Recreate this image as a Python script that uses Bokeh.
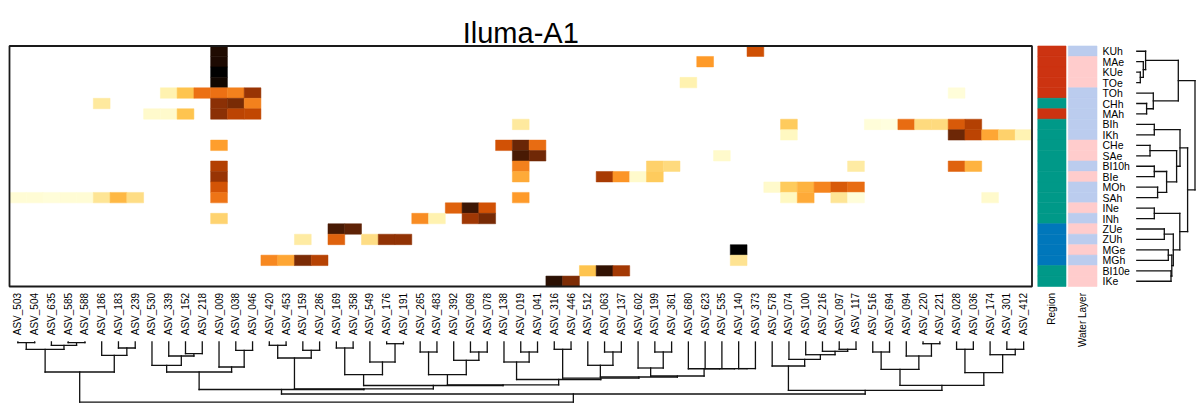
import math
from bokeh.plotting import figure
from bokeh.models import Range1d, LinearColorMapper, ColumnDataSource
from bokeh.core.properties import value
from bokeh.embed import file_html
from bokeh.resources import INLINE

# ---------------- data ----------------
title_text = "Iluma-A1"

asv_labels = [
    "ASV_503", "ASV_504", "ASV_635", "ASV_585", "ASV_588", "ASV_186", "ASV_183", "ASV_239",
    "ASV_530", "ASV_339", "ASV_152", "ASV_218", "ASV_009", "ASV_038", "ASV_046", "ASV_420",
    "ASV_453", "ASV_159", "ASV_286", "ASV_169", "ASV_358", "ASV_549", "ASV_176", "ASV_191",
    "ASV_265", "ASV_483", "ASV_392", "ASV_069", "ASV_078", "ASV_138", "ASV_019", "ASV_041",
    "ASV_316", "ASV_446", "ASV_512", "ASV_063", "ASV_137", "ASV_602", "ASV_199", "ASV_361",
    "ASV_680", "ASV_623", "ASV_535", "ASV_140", "ASV_373", "ASV_578", "ASV_074", "ASV_100",
    "ASV_216", "ASV_097", "ASV_117", "ASV_516", "ASV_694", "ASV_094", "ASV_220", "ASV_221",
    "ASV_028", "ASV_036", "ASV_174", "ASV_301", "ASV_412",
]

sample_labels = [
    "KUh", "MAe", "KUe", "TOe", "TOh", "CHh", "MAh", "BIh", "IKh", "CHe", "SAe", "BI10h",
    "BIe", "MOh", "SAh", "INe", "INh", "ZUe", "ZUh", "MGe", "MGh", "BI10e", "IKe",
]

region = [
    "R1", "R1", "R1", "R1", "R1", "R2", "R1", "R2", "R2", "R2", "R2", "R2",
    "R2", "R2", "R2", "R2", "R2", "R3", "R3", "R3", "R3", "R2", "R2",
]
region_colors = {"R1": "#CC3311", "R2": "#009988", "R3": "#0077BB"}

water_layer = [
    "h", "e", "e", "e", "h", "h", "h", "h", "h", "e", "e", "h",
    "e", "h", "h", "e", "h", "e", "h", "e", "h", "e", "e",
]
water_colors = {"h": "#BBCCEE", "e": "#FFCCCC"}

# non-zero heatmap cells (abundance level on a 0-9 colour scale)
cell_sample = [
    "KUh", "KUh",
    "MAe", "MAe",
    "KUe",
    "TOe", "TOe",
    "TOh", "TOh", "TOh", "TOh", "TOh", "TOh", "TOh",
    "CHh", "CHh", "CHh", "CHh",
    "MAh", "MAh", "MAh", "MAh", "MAh", "MAh",
    "BIh", "BIh", "BIh", "BIh", "BIh", "BIh", "BIh", "BIh", "BIh",
    "IKh", "IKh", "IKh", "IKh", "IKh", "IKh",
    "CHe", "CHe", "CHe", "CHe",
    "SAe", "SAe", "SAe",
    "BI10h", "BI10h", "BI10h", "BI10h", "BI10h", "BI10h", "BI10h",
    "BIe", "BIe", "BIe", "BIe", "BIe", "BIe",
    "MOh", "MOh", "MOh", "MOh", "MOh", "MOh", "MOh",
    "SAh", "SAh", "SAh", "SAh", "SAh", "SAh", "SAh", "SAh", "SAh", "SAh", "SAh", "SAh", "SAh", "SAh", "SAh",
    "INe", "INe", "INe",
    "INh", "INh", "INh", "INh", "INh",
    "ZUe", "ZUe",
    "ZUh", "ZUh", "ZUh", "ZUh", "ZUh",
    "MGe",
    "MGh", "MGh", "MGh", "MGh", "MGh",
    "BI10e", "BI10e", "BI10e",
    "IKe", "IKe",
]
cell_asv = [
    "ASV_009", "ASV_373",
    "ASV_009", "ASV_623",
    "ASV_009",
    "ASV_009", "ASV_680",
    "ASV_339", "ASV_152", "ASV_218", "ASV_009", "ASV_038", "ASV_046", "ASV_028",
    "ASV_186", "ASV_009", "ASV_038", "ASV_046",
    "ASV_530", "ASV_339", "ASV_152", "ASV_009", "ASV_038", "ASV_046",
    "ASV_019", "ASV_074", "ASV_516", "ASV_694", "ASV_094", "ASV_220", "ASV_221", "ASV_028", "ASV_036",
    "ASV_074", "ASV_028", "ASV_036", "ASV_174", "ASV_301", "ASV_412",
    "ASV_009", "ASV_138", "ASV_019", "ASV_041",
    "ASV_019", "ASV_041", "ASV_535",
    "ASV_009", "ASV_019", "ASV_199", "ASV_361", "ASV_117", "ASV_028", "ASV_036",
    "ASV_009", "ASV_019", "ASV_063", "ASV_137", "ASV_602", "ASV_199",
    "ASV_009", "ASV_578", "ASV_074", "ASV_100", "ASV_216", "ASV_097", "ASV_117",
    "ASV_503", "ASV_504", "ASV_635", "ASV_585", "ASV_588", "ASV_186", "ASV_183", "ASV_239", "ASV_009", "ASV_019", "ASV_074", "ASV_100", "ASV_097", "ASV_117", "ASV_174",
    "ASV_392", "ASV_069", "ASV_078",
    "ASV_009", "ASV_265", "ASV_483", "ASV_069", "ASV_078",
    "ASV_169", "ASV_358",
    "ASV_159", "ASV_169", "ASV_549", "ASV_176", "ASV_191",
    "ASV_140",
    "ASV_420", "ASV_453", "ASV_159", "ASV_286", "ASV_140",
    "ASV_512", "ASV_063", "ASV_137",
    "ASV_316", "ASV_446",
]
cell_value = [
    8.66, 5.9,
    8.7, 4.0,
    9.0,
    8.82, 1.3,
    1.3, 3.0, 5.0, 5.0, 4.6, 7.0, 0.3,
    1.7, 7.27, 7.6, 4.6,
    0.6, 0.6, 3.0, 7.27, 6.3, 6.2,
    1.7, 2.8, 0.3, 0.2, 5.1, 2.3, 2.3, 5.6, 6.5,
    0.9, 7.84, 6.3, 3.7, 2.6, 1.2,
    3.9, 5.87, 7.92, 5.1,
    8.27, 7.8, 0.6,
    6.5, 4.6, 2.6, 2.3, 1.6, 5.4, 3.4,
    7.0, 3.6, 6.7, 4.1, 0.6, 2.8,
    5.8, 0.6, 2.8, 3.4, 4.5, 5.6, 5.1,
    0.4, 0.4, 0.3, 0.4, 0.4, 1.9, 3.3, 2.2, 4.9, 4.0, 0.9, 3.6, 1.9, 0.3, 0.6,
    5.4, 8.37, 5.87,
    2.5, 4.3, 1.3, 6.86, 7.65,
    8.27, 8.06,
    1.6, 5.4, 2.2, 7.16, 7.16,
    9.0,
    4.4, 3.7, 7.57, 6.4, 2.0,
    3.0, 8.49, 6.8,
    8.55, 7.55,
]

# hierarchical clustering merges (left id, right id, height); leaves 0..n-1, new ids follow
row_merges = [
    (2, 3, 3.5), (1, 23, 6.5), (0, 24, 8.8), (5, 6, 9.8), (4, 26, 16.5),
    (25, 27, 41.5), (7, 8, 17.5), (9, 10, 13.2), (11, 12, 17.5), (13, 14, 20.8),
    (31, 32, 29.8), (30, 33, 39.8), (29, 34, 43.2), (15, 16, 17.5), (17, 18, 27.5),
    (19, 20, 31.5), (21, 22, 34.2), (38, 39, 35.0), (37, 40, 36.5), (36, 41, 43.0),
    (35, 42, 50.8), (28, 43, 58.2),
]
col_merges = [
    (0, 1, 0.7), (3, 4, 0.7), (2, 62, 3.3), (61, 63, 7.3), (6, 7, 6.0),
    (5, 65, 13.3), (64, 66, 30.0), (10, 11, 11.7), (9, 68, 14.0), (8, 69, 23.3),
    (13, 14, 8.3), (12, 71, 25.0), (70, 72, 30.0), (15, 16, 3.3), (17, 18, 8.3),
    (74, 75, 16.0), (19, 20, 6.0), (22, 23, 1.7), (21, 78, 20.0), (77, 79, 32.7),
    (24, 25, 10.0), (27, 28, 10.0), (26, 82, 18.3), (81, 83, 32.7), (30, 31, 10.0),
    (29, 85, 20.0), (32, 33, 7.3), (35, 36, 10.0), (34, 88, 23.3), (38, 39, 10.0),
    (37, 90, 26.0), (43, 44, 26.6), (42, 92, 26.65), (41, 93, 26.7), (40, 94, 26.75),
    (91, 95, 34.0), (89, 96, 35.0), (87, 97, 36.2), (86, 98, 37.5), (84, 99, 42.8),
    (80, 100, 43.5), (76, 101, 46.8), (73, 102, 47.5), (49, 50, 7.3), (48, 104, 9.3),
    (47, 105, 12.7), (46, 106, 17.3), (45, 107, 24.0), (51, 52, 10.0), (54, 55, 1.7),
    (53, 110, 14.0), (109, 111, 27.3), (56, 57, 7.3), (59, 60, 7.3), (58, 114, 12.7),
    (113, 115, 30.7), (112, 116, 43.3), (108, 117, 48.3), (103, 118, 52.0), (67, 119, 60.2),
]

# ---------------- layout (pixels) ----------------
W, H = 1198, 406
HM_L, HM_R, HM_T, HM_B = 9.0, 1031.5, 45.5, 286.0
NC, NR = len(asv_labels), len(sample_labels)
CW = (HM_R - HM_L) / NC
RH = (HM_B - HM_T) / NR


def ux(px):
    return (px - HM_L) / CW


def uy(py):
    return (py - HM_T) / RH


p = figure(width=W, height=H, x_range=Range1d(ux(0), ux(W)), y_range=Range1d(uy(H), uy(0)),
           x_axis_type=None, y_axis_type=None, output_backend="svg", toolbar_location=None,
           min_border=0, background_fill_color="white", border_fill_color="white")
p.outline_line_color = None
p.grid.visible = False

# colour ramp (YlOrBr extended to black)
anchors = ["#ffffe5", "#fff7bc", "#fee391", "#fec44f", "#fe9929", "#ec7014",
           "#cc4c02", "#993404", "#662506", "#000000"]


def hx(c):
    return tuple(int(c[i:i + 2], 16) for i in (1, 3, 5))


palette = []
N = 256
for i in range(N):
    t = i / (N - 1) * (len(anchors) - 1)
    k = min(int(t), len(anchors) - 2)
    f = t - k
    a, b = hx(anchors[k]), hx(anchors[k + 1])
    palette.append("#%02x%02x%02x" % tuple(round(a[j] + (b[j] - a[j]) * f) for j in range(3)))
mapper = LinearColorMapper(palette=palette, low=0, high=len(anchors) - 1)

col_index = {a: i for i, a in enumerate(asv_labels)}
row_index = {s: i for i, s in enumerate(sample_labels)}
src = ColumnDataSource(dict(
    x=[col_index[a] + 0.5 for a in cell_asv],
    y=[row_index[s] + 0.5 for s in cell_sample],
    v=cell_value,
))
p.rect(x="x", y="y", width=1, height=1, source=src,
       fill_color={"field": "v", "transform": mapper},
       line_color={"field": "v", "transform": mapper}, line_width=0.5)

# heatmap border
p.quad(left=[0], right=[NC], top=[0], bottom=[NR], fill_color=None, line_color="#1a1a1a", line_width=1.8)

# row annotations
REG_L, REG_R = 1037.3, 1065.5
WAT_L, WAT_R = 1067.8, 1096.5
reg_fill = [region_colors[r] for r in region]
wat_fill = [water_colors[w] for w in water_layer]
p.quad(left=[ux(REG_L)] * NR, right=[ux(REG_R)] * NR,
       top=[i for i in range(NR)], bottom=[i + 1 for i in range(NR)],
       fill_color=reg_fill, line_color=reg_fill, line_width=0.6)
p.quad(left=[ux(WAT_L)] * NR, right=[ux(WAT_R)] * NR,
       top=[i for i in range(NR)], bottom=[i + 1 for i in range(NR)],
       fill_color=wat_fill, line_color=wat_fill, line_width=0.6)

FONT = value("Liberation Sans")

# row labels
p.text(x=[ux(1102)] * NR, y=[i + 0.5 for i in range(NR)], text=sample_labels,
       text_font=FONT, text_font_size="10.5px", text_align="left", text_baseline="middle",
       text_color="#000000")

# column labels (vertical)
LBL_TOP = 292.5
p.text(x=[i + 0.5 for i in range(NC)], y=[uy(LBL_TOP)] * NC, text=asv_labels,
       angle=math.pi / 2, text_font=FONT, text_font_size="10px", text_align="right",
       text_baseline="middle", text_color="#000000")
p.text(x=[ux((REG_L + REG_R) / 2), ux((WAT_L + WAT_R) / 2)], y=[uy(LBL_TOP)] * 2,
       text=["Region", "Water Layer"], angle=math.pi / 2, text_font=FONT, text_font_size="10px",
       text_align="right", text_baseline="middle", text_color="#000000")

# title
p.text(x=[NC / 2], y=[uy(32.5)], text=[title_text], text_font=FONT, text_font_size="29px",
       text_align="center", text_baseline="alphabetic", text_color="#000000")


def dendro(merges, n):
    pos = {i: i + 0.5 for i in range(n)}
    hgt = {i: 0.0 for i in range(n)}
    segs = []
    for k, (a, b, h) in enumerate(merges):
        segs.append((pos[a], hgt[a], pos[a], h))
        segs.append((pos[b], hgt[b], pos[b], h))
        segs.append((pos[a], h, pos[b], h))
        pos[n + k] = (pos[a] + pos[b]) / 2
        hgt[n + k] = h
    return segs


COL_DEND_TOP = 341.5
cs = dendro(col_merges, NC)
p.segment(x0=[s[0] for s in cs], y0=[uy(COL_DEND_TOP + s[1]) for s in cs],
          x1=[s[2] for s in cs], y1=[uy(COL_DEND_TOP + s[3]) for s in cs],
          line_color="#111111", line_width=1.3, line_cap="square")

ROW_DEND_LEFT = 1136.3
rs = dendro(row_merges, NR)
p.segment(x0=[ux(ROW_DEND_LEFT + s[1]) for s in rs], y0=[s[0] for s in rs],
          x1=[ux(ROW_DEND_LEFT + s[3]) for s in rs], y1=[s[2] for s in rs],
          line_color="#111111", line_width=1.3, line_cap="square")

open("out.html", "w").write(file_html(p, INLINE))
